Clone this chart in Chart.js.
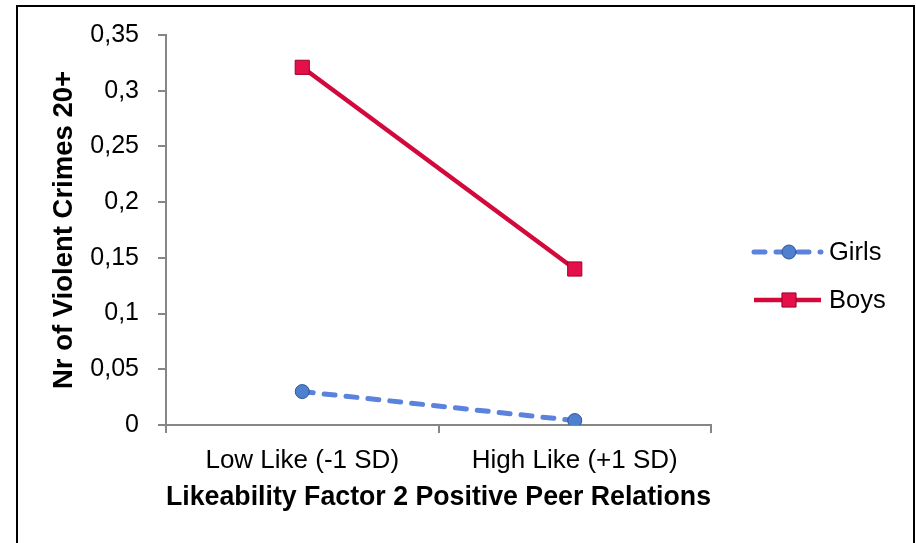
<!DOCTYPE html>
<html>
<head>
<meta charset="utf-8">
<script src="https://cdn.jsdelivr.net/npm/chart.js@4"></script>
<style>
  html, body { margin: 0; padding: 0; background: #fff; }
  #wrap { width: 916px; height: 543px; position: relative; }
</style>
</head>
<body>
<div id="wrap"><canvas id="chart" width="916" height="543"></canvas></div>
<script>
const categories = ['Low Like (-1 SD)', 'High Like (+1 SD)'];
const girls = [0.030, 0.004];
const boys  = [0.321, 0.140];
const yTicks = [0, 0.05, 0.1, 0.15, 0.2, 0.25, 0.3, 0.35];

const FONT = "'Liberation Sans', Arial, sans-serif";
const axisGray = '#868686';

// black outer frame
const framePlugin = {
    id: 'frame',
    afterDraw(chart){
        const ctx = chart.ctx;
        ctx.save();
        ctx.strokeStyle = '#000';
        ctx.lineWidth = 2;
        ctx.strokeRect(17, 6, 897, 700);
        ctx.restore();
    }
};

// legend with line + marker, like the office-style legend
const lineLegend = {
    id: 'lineLegend',
    afterDraw(chart){
        const ctx = chart.ctx;
        const rows = [252, 300];
        chart.data.datasets.forEach((ds, i) => {
            const y = rows[i];
            ctx.save();
            ctx.strokeStyle = ds.borderColor;
            ctx.lineWidth = ds.borderWidth;
            ctx.lineCap = ds.borderCapStyle || 'butt';
            ctx.setLineDash(ds.borderDash || []);
            ctx.beginPath();
            ctx.moveTo(754, y);
            ctx.lineTo(821, y);
            ctx.stroke();
            ctx.setLineDash([]);
            ctx.fillStyle = ds.pointBackgroundColor;
            ctx.strokeStyle = ds.pointBorderColor;
            ctx.lineWidth = ds.pointBorderWidth;
            Chart.helpers.drawPoint(ctx, {
                pointStyle: ds.pointStyle,
                radius: ds.pointRadius,
                borderWidth: ds.pointBorderWidth
            }, 789, y);
            ctx.fillStyle = '#000';
            ctx.font = '25.5px ' + FONT;
            ctx.textBaseline = 'middle';
            ctx.textAlign = 'left';
            ctx.fillText(ds.label, 829, y + 1);
            ctx.restore();
        });
    }
};

const ctx = document.getElementById('chart').getContext('2d');
const chart = new Chart(ctx, {
    type: 'line',
    data: {
        labels: categories,
        datasets: [{
            label: 'Girls',
            data: girls,
            borderColor: '#5B82DC',
            borderWidth: 5,
            borderDash: [11, 11],
            borderCapStyle: 'round',
            pointStyle: 'circle',
            pointRadius: 7,
            pointBackgroundColor: '#4F7FCF',
            pointBorderColor: '#2E5597',
            pointBorderWidth: 1,
            tension: 0
        }, {
            label: 'Boys',
            data: boys,
            borderColor: '#D2093B',
            borderWidth: 4.5,
            pointStyle: 'rect',
            pointRadius: 10,
            pointBackgroundColor: '#E3104A',
            pointBorderColor: '#9E0025',
            pointBorderWidth: 1,
            tension: 0
        }]
    },
    options: {
        responsive: false,
        animation: false,
        layout: { padding: { top: 35, right: 205, bottom: 0, left: 0 } },
        plugins: {
            legend: { display: false },
            tooltip: { enabled: false }
        },
        scales: {
            x: {
                offset: true,
                grid: {
                    offset: true,
                    drawOnChartArea: false,
                    drawTicks: true,
                    tickLength: 8,
                    color: axisGray,
                    lineWidth: 2
                },
                border: { color: axisGray, width: 2 },
                ticks: {
                    color: '#000',
                    padding: 12,
                    maxRotation: 0,
                    font: { family: FONT, size: 26 }
                },
                title: {
                    display: true,
                    text: 'Likeability Factor 2 Positive Peer Relations',
                    color: '#000',
                    font: { family: FONT, size: 27, weight: 'bold' },
                    padding: { top: 0, bottom: 29 }
                },
                afterFit(s){ s.height = 118; }
            },
            y: {
                min: 0,
                max: 0.35,
                afterBuildTicks(s){ s.ticks = yTicks.map(v => ({ value: v })); },
                grid: {
                    drawOnChartArea: false,
                    drawTicks: true,
                    tickLength: 8,
                    color: axisGray,
                    lineWidth: 2
                },
                border: { color: axisGray, width: 2 },
                ticks: {
                    color: '#000',
                    padding: 19,
                    font: { family: FONT, size: 25 },
                    callback: v => String(Math.round(v * 100) / 100).replace('.', ',')
                },
                title: {
                    display: true,
                    text: 'Nr of Violent Crimes 20+',
                    color: '#000',
                    font: { family: FONT, size: 27.5, weight: 'bold' },
                    padding: { top: 48, bottom: 0 }
                },
                afterFit(s){ s.width = 166; }
            }
        }
    },
    plugins: [framePlugin, lineLegend]
});
</script>
</body>
</html>
